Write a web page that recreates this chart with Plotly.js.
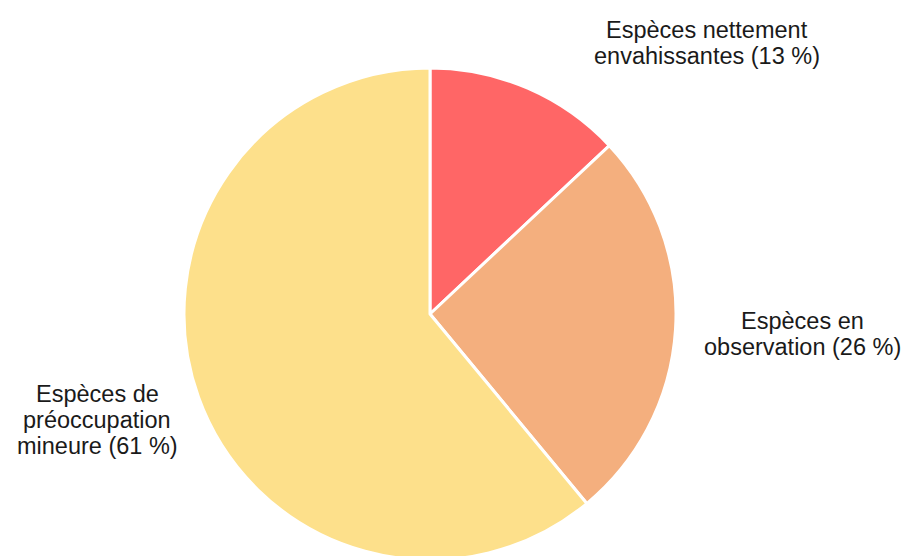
<!DOCTYPE html>
<html>
<head>
<meta charset="utf-8">
<script src="https://cdn.plot.ly/plotly-3.0.1.min.js"></script>
<style>
  html, body { margin: 0; padding: 0; overflow: hidden; background: #fff; }
  #chart { width: 904px; height: 560px; }
</style>
</head>
<body>
<div id="chart"></div>
<script>
// Data
const categories = ["Espèces nettement<br>envahissantes", "Espèces en<br>observation", "Espèces de<br>préoccupation<br>mineure"];
const values = [13, 26, 61];
const colors = ["#FF6666", "#F4AF7E", "#FDE08B"];

// Label placement (paper coordinates of the plot area, block centre)
const labelPos = [
  {x: 0.822, y: 1.0508},
  {x: 0.9326, y: 0.4593},
  {x: 0.1128, y: 0.2846}
];
const lineGap = 26; // px between lines

const annotations = [];
categories.forEach((c, i) => {
  const lines = (c + " (" + values[i] + " %)").split("<br>");
  const n = lines.length;
  lines.forEach((ln, k) => {
    annotations.push({
      text: ln,
      x: labelPos[i].x, y: labelPos[i].y,
      xref: "paper", yref: "paper",
      xanchor: "center", yanchor: "middle",
      yshift: -((k - (n - 1) / 2) * lineGap),
      align: "center",
      showarrow: false,
      font: {family: "Liberation Sans, Arial, sans-serif", size: 23.5, color: "#1a1a1a"}
    });
  });
});

const trace = {
  type: "pie",
  labels: categories,
  values: values,
  sort: false,
  direction: "clockwise",
  rotation: 0,
  textinfo: "none",
  hoverinfo: "none",
  showlegend: false,
  marker: {colors: colors, line: {color: "#ffffff", width: 3}}
};

const layout = {
  width: 904,
  height: 560,
  margin: {l: 0, r: 44, t: 68, b: 0, pad: 0},
  paper_bgcolor: "#ffffff",
  plot_bgcolor: "#ffffff",
  showlegend: false,
  annotations: annotations
};

Plotly.newPlot("chart", [trace], layout, {staticPlot: true, displayModeBar: false});
</script>
</body>
</html>
